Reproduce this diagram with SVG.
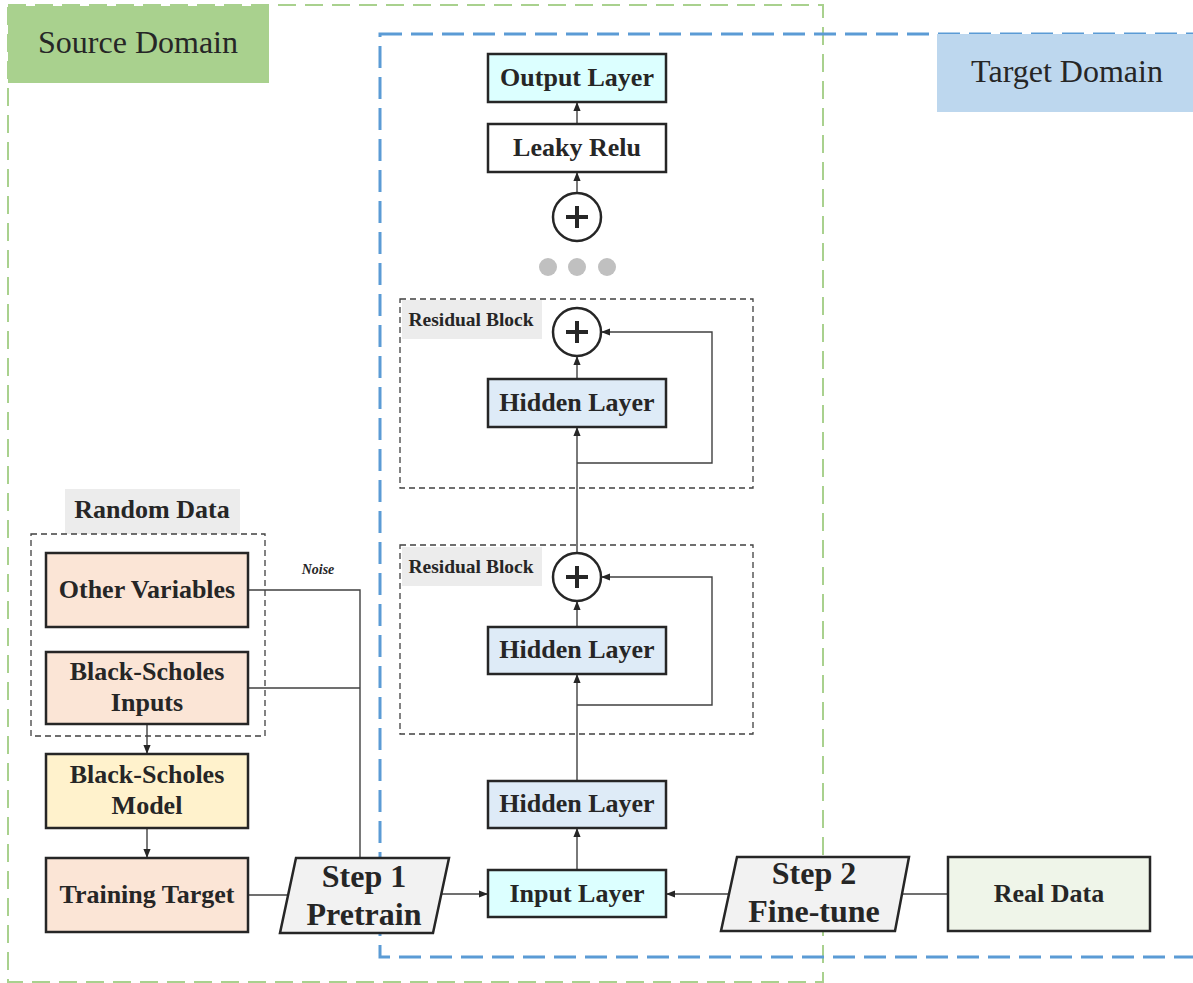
<svg xmlns="http://www.w3.org/2000/svg" width="1193" height="983" viewBox="0 0 1193 983">
<style>
text{font-family:"Liberation Serif","Times New Roman",serif;fill:#262626;text-anchor:middle}
.b{font-weight:bold;font-size:26px}
.step{font-weight:bold;font-size:32px}
.dom{font-size:32px}
.rb{font-weight:bold;font-size:19.5px}
.box{stroke:#262626;stroke-width:2.5}
.cyan{fill:#dcffff}
.blue{fill:#deebf7}
.peach{fill:#fbe5d6}
.yel{fill:#fff2cc}
.grn{fill:#eff5e9}
.gray{fill:#f2f2f2}
.lbl{fill:#ececec}
.dash{fill:none;stroke:#404040;stroke-width:1.3;stroke-dasharray:6 4}
.con{fill:none;stroke:#404040;stroke-width:1.4}
.circ{fill:#fff;stroke:#262626;stroke-width:2.5}
.plus{stroke:#262626;stroke-width:4}
.dot{fill:#c0c0c0}
</style>
<defs>
<marker id="arr" viewBox="0 0 10 10" refX="10" refY="5" markerWidth="9" markerHeight="9" markerUnits="userSpaceOnUse" orient="auto"><path d="M0,1 L10,5 L0,9 z" fill="#262626"/></marker>
</defs>
<rect width="1193" height="983" fill="#fff"/>

<g id="source-domain">
<rect x="8" y="5" width="815" height="977" fill="none" stroke="#a9d18e" stroke-width="2" stroke-dasharray="18 9"/>
<rect x="8" y="6" width="261" height="77" fill="#a9d18e"/>
<text class="dom" x="138" y="53">Source Domain</text>
</g>
<g id="target-domain">
<rect x="380" y="34" width="830" height="923" fill="none" stroke="#5b9bd5" stroke-width="3" stroke-dasharray="22 9"/>
<rect x="937" y="34" width="260" height="78" fill="#bdd7ee"/>
<text class="dom" x="1067" y="82">Target Domain</text>
</g>

<g id="connectors">
<line class="con" x1="577" y1="124" x2="577" y2="102" marker-end="url(#arr)"/>
<line class="con" x1="577" y1="193" x2="577" y2="172" marker-end="url(#arr)"/>
<line class="con" x1="577" y1="379" x2="577" y2="356" marker-end="url(#arr)"/>
<line class="con" x1="577" y1="553" x2="577" y2="427" marker-end="url(#arr)"/>
<polyline class="con" points="577,463 712,463 712,332 601,332" marker-end="url(#arr)"/>
<line class="con" x1="577" y1="627" x2="577" y2="601" marker-end="url(#arr)"/>
<line class="con" x1="577" y1="781" x2="577" y2="674" marker-end="url(#arr)"/>
<polyline class="con" points="577,705 712,705 712,577 601,577" marker-end="url(#arr)"/>
<line class="con" x1="577" y1="870" x2="577" y2="828" marker-end="url(#arr)"/>
<line class="con" x1="441" y1="894" x2="488" y2="894" marker-end="url(#arr)"/>
<line class="con" x1="728" y1="894" x2="666" y2="894" marker-end="url(#arr)"/>
<line class="con" x1="948" y1="894" x2="903" y2="894"/>
<line class="con" x1="248" y1="895" x2="288" y2="895"/>
<polyline class="con" points="248,590 360,590 360,858"/>
<line class="con" x1="248" y1="688" x2="360" y2="688"/>
<line class="con" x1="147" y1="724" x2="147" y2="754" marker-end="url(#arr)"/>
<line class="con" x1="147" y1="828" x2="147" y2="858" marker-end="url(#arr)"/>
<text x="318" y="574" style="font-weight:bold;font-style:italic;font-size:14px">Noise</text>
</g>

<g id="output-layer">
<rect class="box cyan" x="488" y="54" width="178" height="48"/>
<text class="b" x="577" y="86">Output Layer</text>
</g>
<g id="leaky-relu">
<rect class="box" fill="#fff" x="488" y="124" width="178" height="48"/>
<text class="b" x="577" y="156">Leaky Relu</text>
</g>
<g id="add-top">
<circle class="circ" cx="577" cy="217" r="24"/>
<line class="plus" x1="566" y1="217" x2="588" y2="217"/>
<line class="plus" x1="577" y1="206" x2="577" y2="228"/>
</g>
<g id="ellipsis">
<circle class="dot" cx="548" cy="267" r="9"/>
<circle class="dot" cx="577" cy="267" r="9"/>
<circle class="dot" cx="607" cy="267" r="9"/>
</g>

<g id="residual-block-1">
<rect class="dash" x="400" y="299" width="353" height="189"/>
<rect class="lbl" x="402" y="300" width="140" height="39"/>
<text class="rb" x="471" y="326">Residual Block</text>
<circle class="circ" cx="577" cy="332" r="24"/>
<line class="plus" x1="566" y1="332" x2="588" y2="332"/>
<line class="plus" x1="577" y1="321" x2="577" y2="343"/>
<rect class="box blue" x="488" y="379" width="178" height="48"/>
<text class="b" x="577" y="411">Hidden Layer</text>
</g>

<g id="residual-block-2">
<rect class="dash" x="400" y="545" width="353" height="189"/>
<rect class="lbl" x="402" y="547" width="140" height="39"/>
<text class="rb" x="471" y="573">Residual Block</text>
<circle class="circ" cx="577" cy="577" r="24"/>
<line class="plus" x1="566" y1="577" x2="588" y2="577"/>
<line class="plus" x1="577" y1="566" x2="577" y2="588"/>
<rect class="box blue" x="488" y="627" width="178" height="47"/>
<text class="b" x="577" y="658">Hidden Layer</text>
</g>

<g id="hidden-layer">
<rect class="box blue" x="488" y="781" width="178" height="47"/>
<text class="b" x="577" y="812">Hidden Layer</text>
</g>
<g id="input-layer">
<rect class="box cyan" x="488" y="870" width="178" height="47"/>
<text class="b" x="577" y="902">Input Layer</text>
</g>

<g id="random-data">
<rect class="lbl" x="65" y="489" width="175" height="45"/>
<text class="b" x="152" y="518">Random Data</text>
<rect class="dash" x="31" y="534" width="234" height="202"/>
</g>
<g id="other-variables">
<rect class="box peach" x="46" y="553" width="202" height="74"/>
<text class="b" x="147" y="598">Other Variables</text>
</g>
<g id="bs-inputs">
<rect class="box peach" x="46" y="652" width="202" height="72"/>
<text class="b" x="147" y="680">Black-Scholes</text>
<text class="b" x="147" y="711">Inputs</text>
</g>
<g id="bs-model">
<rect class="box yel" x="46" y="754" width="202" height="74"/>
<text class="b" x="147" y="783">Black-Scholes</text>
<text class="b" x="147" y="814">Model</text>
</g>
<g id="training-target">
<rect class="box peach" x="46" y="858" width="202" height="74"/>
<text class="b" x="147" y="903">Training Target</text>
</g>

<g id="step1">
<polygon class="box gray" points="296,858 449,858 433,933 280,933"/>
<text class="step" x="364" y="887">Step 1</text>
<text class="step" x="364" y="925">Pretrain</text>
</g>
<g id="step2">
<polygon class="box gray" points="737,857 909,857 895,931 721,931"/>
<text class="step" x="814" y="884">Step 2</text>
<text class="step" x="814" y="922">Fine-tune</text>
</g>
<g id="real-data">
<rect class="box grn" x="948" y="857" width="202" height="74"/>
<text class="b" x="1049" y="902">Real Data</text>
</g>
</svg>
